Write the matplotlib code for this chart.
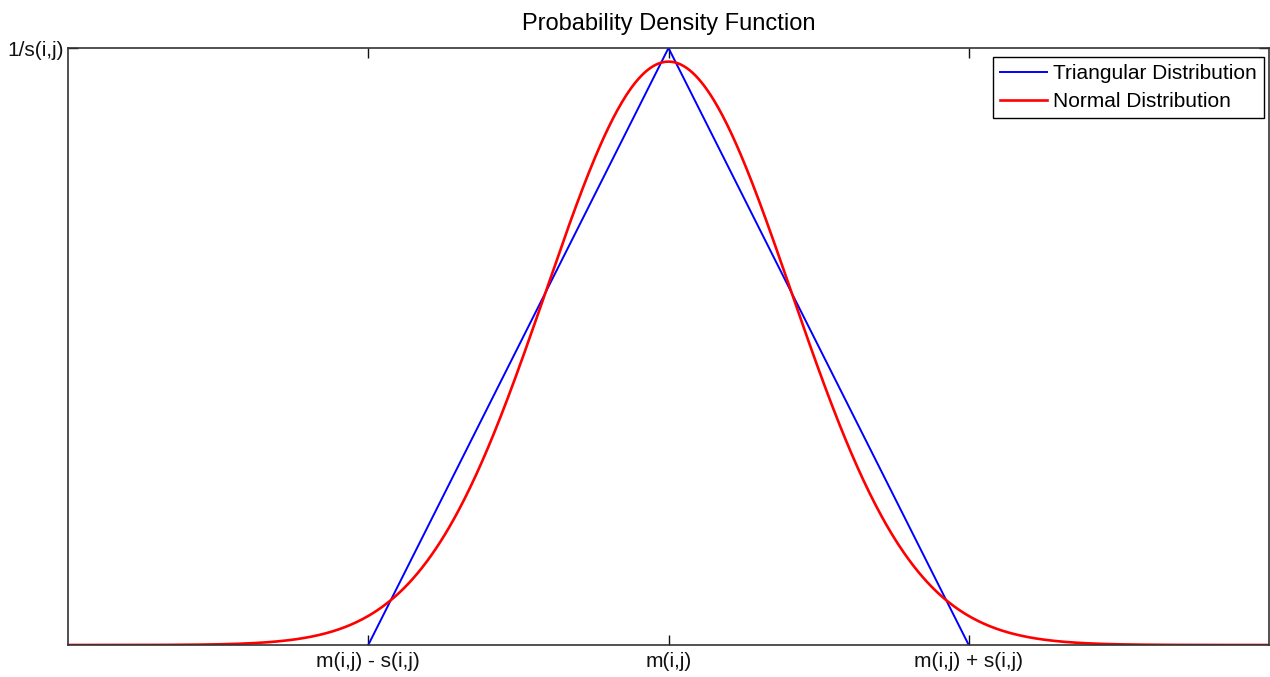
import numpy as np
import matplotlib.pyplot as plt

plt.rcParams['font.family'] = ['Liberation Sans', 'DejaVu Sans']

# triangular pdf, m = 0, s = 1, peak 1/s
tri_x = [-1.0, 0.0, 1.0]
tri_y = [0.0, 1.0, 0.0]

# normal pdf with the same mean and variance (s^2 / 6)
norm_mean = 0.0
norm_sigma = 1.0 / np.sqrt(6.0)
norm_x = np.linspace(-2.0, 2.0, 801)
norm_y = np.exp(-0.5 * ((norm_x - norm_mean) / norm_sigma) ** 2) / (norm_sigma * np.sqrt(2 * np.pi))

xtick_pos = [-1, 0, 1]
xtick_labels = ['m(i,j) - s(i,j)', 'm(i,j)', 'm(i,j) + s(i,j)']
ytick_pos = [1]
ytick_labels = ['1/s(i,j)']

fig = plt.figure(figsize=(12.7, 6.77), dpi=100)
ax = fig.add_axes([68 / 1270, 32 / 677, 1201 / 1270, 597 / 677])

ax.plot(tri_x, tri_y, color='#0000ff', lw=1.4, label='Triangular Distribution')
ax.plot(norm_x, norm_y, color='#ff0000', lw=1.9, label='Normal Distribution')

ax.set_xlim(-2, 2)
ax.set_ylim(0, 1)
ax.set_xticks(xtick_pos)
ax.set_xticklabels(xtick_labels)
ax.set_yticks(ytick_pos)
ax.set_yticklabels(ytick_labels)
ax.tick_params(direction='in', length=7, width=1, top=True, right=True,
               labelsize=15, pad=5, colors='#111111')
ax.tick_params(axis='y', pad=3)
for sp in ax.spines.values():
    sp.set_color('#333333')
    sp.set_linewidth(1.2)

ax.set_title('Probability Density Function', fontsize=17, pad=13)

leg = ax.legend(loc='upper right', bbox_to_anchor=(1 - 5 / 1201, 1 - 9 / 597),
                borderaxespad=0, fontsize=15, fancybox=False, framealpha=1,
                edgecolor='black', handlelength=2.25, handletextpad=0.3,
                borderpad=0.35, labelspacing=0.42)
leg.get_frame().set_linewidth(1.0)

fig.savefig('out.png', dpi=100)
